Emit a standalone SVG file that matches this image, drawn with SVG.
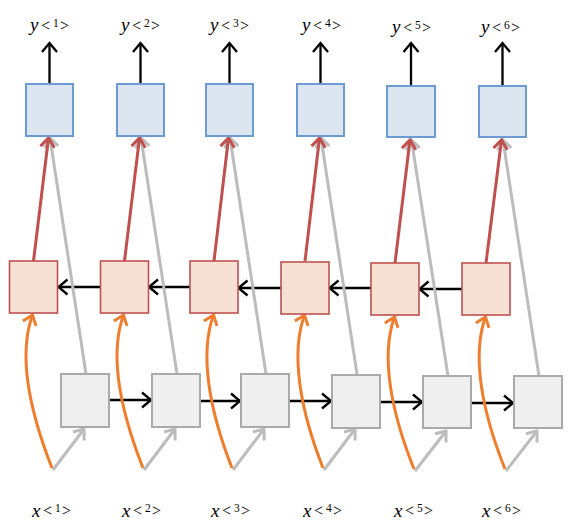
<svg xmlns="http://www.w3.org/2000/svg" width="571" height="530" viewBox="0 0 571 530">
<defs>
<style>
.blue{fill:#dce6f1;stroke:#6b9bd2;stroke-width:2}
.org{fill:#f7e1d5;stroke:#c0504d;stroke-width:1.6}
.gry{fill:#efefef;stroke:#aaaaaa;stroke-width:2}
.k{stroke:#000;stroke-width:2.3;fill:none}
.r{stroke:#c0504d;stroke-width:3;fill:none}
.g{stroke:#bcbcbc;stroke-width:3;fill:none}
.o{stroke:#ee7d2d;stroke-width:3;fill:none}
text{font-family:"Liberation Serif","DejaVu Serif",serif;fill:#000}
.v{font-size:19px;font-style:italic}
.a{font-size:16px}
.d{font-size:11.5px}
</style>
<marker id="mk" viewBox="-12 -9 14 18" markerWidth="14" markerHeight="18" refX="0" refY="0" orient="auto" markerUnits="userSpaceOnUse"><path d="M-9,-7.5 L0,0 L-9,7.5" fill="none" stroke="#000" stroke-width="2.3"/></marker>
<marker id="mr" viewBox="-12 -9 14 18" markerWidth="14" markerHeight="18" refX="0" refY="0" orient="auto" markerUnits="userSpaceOnUse"><path d="M-9,-7 L0,0 L-9,7" fill="none" stroke="#c0504d" stroke-width="3"/></marker>
<marker id="mg" viewBox="-12 -9 14 18" markerWidth="14" markerHeight="18" refX="0" refY="0" orient="auto" markerUnits="userSpaceOnUse"><path d="M-9,-7 L0,0 L-9,7" fill="none" stroke="#bcbcbc" stroke-width="3"/></marker>
<marker id="mo" viewBox="-12 -9 14 18" markerWidth="14" markerHeight="18" refX="0" refY="0" orient="auto" markerUnits="userSpaceOnUse"><path d="M-9,-7 L0,0 L-9,7" fill="none" stroke="#ee7d2d" stroke-width="3"/></marker>
</defs>

<g id="connectors">
<line class="k" x1="49.5" y1="84" x2="49.5" y2="43" marker-end="url(#mk)"/>
<line class="k" x1="140.5" y1="84" x2="140.5" y2="43" marker-end="url(#mk)"/>
<line class="k" x1="229.5" y1="84" x2="229.5" y2="43" marker-end="url(#mk)"/>
<line class="k" x1="320.5" y1="84" x2="320.5" y2="43" marker-end="url(#mk)"/>
<line class="k" x1="411" y1="86" x2="411" y2="43" marker-end="url(#mk)"/>
<line class="k" x1="502.5" y1="86" x2="502.5" y2="43" marker-end="url(#mk)"/>
<line class="k" x1="100" y1="287" x2="58.5" y2="287" marker-end="url(#mk)"/>
<line class="k" x1="190" y1="287" x2="149" y2="287" marker-end="url(#mk)"/>
<line class="k" x1="281" y1="288" x2="238.5" y2="288" marker-end="url(#mk)"/>
<line class="k" x1="371" y1="288" x2="329.5" y2="288" marker-end="url(#mk)"/>
<line class="k" x1="462" y1="289" x2="419.5" y2="289" marker-end="url(#mk)"/>
<line class="k" x1="109" y1="400" x2="151" y2="400" marker-end="url(#mk)"/>
<line class="k" x1="200" y1="401" x2="240" y2="401" marker-end="url(#mk)"/>
<line class="k" x1="289" y1="401" x2="331" y2="401" marker-end="url(#mk)"/>
<line class="k" x1="380" y1="402" x2="422" y2="402" marker-end="url(#mk)"/>
<line class="k" x1="471" y1="403" x2="513" y2="403" marker-end="url(#mk)"/>
<line class="g" x1="86" y1="374" x2="50" y2="138" marker-end="url(#mg)"/>
<line class="g" x1="177" y1="374" x2="141" y2="138" marker-end="url(#mg)"/>
<line class="g" x1="266" y1="374" x2="230" y2="138" marker-end="url(#mg)"/>
<line class="g" x1="357" y1="374" x2="321" y2="138" marker-end="url(#mg)"/>
<line class="g" x1="448" y1="376" x2="411.5" y2="140" marker-end="url(#mg)"/>
<line class="g" x1="539" y1="376" x2="503" y2="140" marker-end="url(#mg)"/>
<line class="r" x1="33.5" y1="261" x2="48.5" y2="138" marker-end="url(#mr)"/>
<line class="r" x1="124.5" y1="261" x2="139.5" y2="138" marker-end="url(#mr)"/>
<line class="r" x1="214" y1="261" x2="228.5" y2="138" marker-end="url(#mr)"/>
<line class="r" x1="305" y1="261" x2="319.5" y2="138" marker-end="url(#mr)"/>
<line class="r" x1="395" y1="263" x2="410" y2="140" marker-end="url(#mr)"/>
<line class="r" x1="486" y1="263" x2="501.5" y2="140" marker-end="url(#mr)"/>
<line class="g" x1="53" y1="470" x2="84" y2="429" marker-end="url(#mg)"/>
<line class="g" x1="144" y1="470" x2="175" y2="429" marker-end="url(#mg)"/>
<line class="g" x1="233" y1="470" x2="264" y2="429" marker-end="url(#mg)"/>
<line class="g" x1="324" y1="470" x2="355" y2="429" marker-end="url(#mg)"/>
<line class="g" x1="415" y1="471" x2="446" y2="431" marker-end="url(#mg)"/>
<line class="g" x1="506" y1="471" x2="537" y2="431" marker-end="url(#mg)"/>
<path class="o" d="M52,468 C30,412 18,355 32.5,315" marker-end="url(#mo)"/>
<path class="o" d="M143,468 C121,412 109,355 123.5,315" marker-end="url(#mo)"/>
<path class="o" d="M232,468 C210,412 199,355 213.5,315" marker-end="url(#mo)"/>
<path class="o" d="M323,468 C301,412 290,355 304.5,315" marker-end="url(#mo)"/>
<path class="o" d="M414,469 C392,414 380,357 394.5,317" marker-end="url(#mo)"/>
<path class="o" d="M505,469 C483,414 471,357 485.5,317" marker-end="url(#mo)"/>
</g>

<g id="y1"><rect class="blue" x="26" y="84" width="47" height="52"/><text x="30" y="31"><tspan class="v">y</tspan><tspan class="a" x="41" y="31">&lt;</tspan><tspan class="d" x="53" y="27">1</tspan><tspan class="a" x="60" y="31">&gt;</tspan></text></g>
<g id="y2"><rect class="blue" x="117" y="84" width="47" height="52"/><text x="121" y="31"><tspan class="v">y</tspan><tspan class="a" x="132" y="31">&lt;</tspan><tspan class="d" x="144" y="27">2</tspan><tspan class="a" x="151" y="31">&gt;</tspan></text></g>
<g id="y3"><rect class="blue" x="206" y="84" width="47" height="52"/><text x="210" y="31"><tspan class="v">y</tspan><tspan class="a" x="221" y="31">&lt;</tspan><tspan class="d" x="233" y="27">3</tspan><tspan class="a" x="240" y="31">&gt;</tspan></text></g>
<g id="y4"><rect class="blue" x="297" y="84" width="47" height="52"/><text x="302" y="31"><tspan class="v">y</tspan><tspan class="a" x="313" y="31">&lt;</tspan><tspan class="d" x="325" y="27">4</tspan><tspan class="a" x="332" y="31">&gt;</tspan></text></g>
<g id="y5"><rect class="blue" x="387" y="86" width="48" height="51"/><text x="392" y="33"><tspan class="v">y</tspan><tspan class="a" x="403" y="33">&lt;</tspan><tspan class="d" x="415" y="29">5</tspan><tspan class="a" x="422" y="33">&gt;</tspan></text></g>
<g id="y6"><rect class="blue" x="479" y="86" width="47" height="51"/><text x="481" y="33"><tspan class="v">y</tspan><tspan class="a" x="492" y="33">&lt;</tspan><tspan class="d" x="504" y="29">6</tspan><tspan class="a" x="511" y="33">&gt;</tspan></text></g>

<g id="a1"><rect class="org" x="9.5" y="261" width="48" height="52"/></g>
<g id="a2"><rect class="org" x="100.5" y="261" width="48" height="52"/></g>
<g id="a3"><rect class="org" x="190" y="261" width="48" height="52"/></g>
<g id="a4"><rect class="org" x="281" y="262" width="48" height="52"/></g>
<g id="a5"><rect class="org" x="371" y="263" width="48" height="52"/></g>
<g id="a6"><rect class="org" x="462" y="263" width="48" height="52"/></g>

<g id="h1"><rect class="gry" x="61" y="374" width="48" height="53"/></g>
<g id="h2"><rect class="gry" x="152" y="374" width="48" height="53"/></g>
<g id="h3"><rect class="gry" x="241" y="374" width="48" height="53"/></g>
<g id="h4"><rect class="gry" x="332" y="375" width="48" height="53"/></g>
<g id="h5"><rect class="gry" x="423" y="376" width="48" height="52"/></g>
<g id="h6"><rect class="gry" x="514" y="376" width="48" height="52"/></g>

<g id="x1"><text x="32" y="517"><tspan class="v">x</tspan><tspan class="a" x="43" y="516">&lt;</tspan><tspan class="d" x="55" y="512">1</tspan><tspan class="a" x="62" y="516">&gt;</tspan></text></g>
<g id="x2"><text x="122" y="517"><tspan class="v">x</tspan><tspan class="a" x="133" y="516">&lt;</tspan><tspan class="d" x="145" y="512">2</tspan><tspan class="a" x="152" y="516">&gt;</tspan></text></g>
<g id="x3"><text x="211" y="517"><tspan class="v">x</tspan><tspan class="a" x="222" y="516">&lt;</tspan><tspan class="d" x="234" y="512">3</tspan><tspan class="a" x="241" y="516">&gt;</tspan></text></g>
<g id="x4"><text x="303" y="517"><tspan class="v">x</tspan><tspan class="a" x="314" y="516">&lt;</tspan><tspan class="d" x="326" y="512">4</tspan><tspan class="a" x="333" y="516">&gt;</tspan></text></g>
<g id="x5"><text x="394" y="517"><tspan class="v">x</tspan><tspan class="a" x="405" y="516">&lt;</tspan><tspan class="d" x="417" y="512">5</tspan><tspan class="a" x="424" y="516">&gt;</tspan></text></g>
<g id="x6"><text x="482" y="517"><tspan class="v">x</tspan><tspan class="a" x="493" y="516">&lt;</tspan><tspan class="d" x="505" y="512">6</tspan><tspan class="a" x="512" y="516">&gt;</tspan></text></g>
</svg>
